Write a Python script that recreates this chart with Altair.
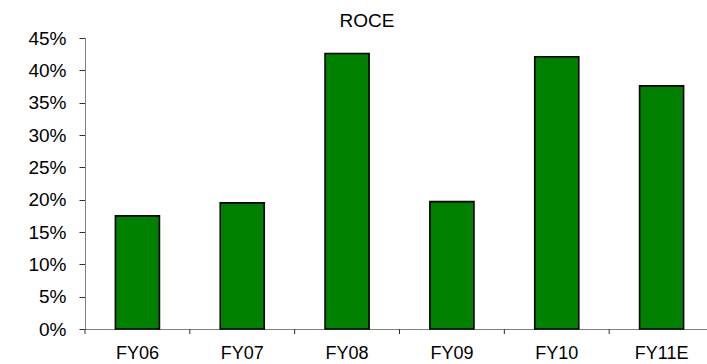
import altair as alt
import pandas as pd

# ROCE by fiscal year
years = ["FY06", "FY07", "FY08", "FY09", "FY10", "FY11E"]
roce = [0.175, 0.195, 0.426, 0.197, 0.421, 0.376]
y_ticks = [0, 0.05, 0.10, 0.15, 0.20, 0.25, 0.30, 0.35, 0.40, 0.45]

df = pd.DataFrame({"year": years, "roce": roce})

FONT = "Liberation Sans"
PLOT_H = 291

x_enc = alt.X(
    "year:N",
    sort=years,
    title=None,
    scale=alt.Scale(range=[0, 629], paddingInner=0, paddingOuter=0),
    axis=alt.Axis(
        labelAngle=0,
        ticks=False,
        labelPadding=15,
        labelFontSize=18,
        labelColor="#000000",
        domainColor="#808080",
    ),
)

bars = (
    alt.Chart(df)
    .mark_bar(
        color="#008000",
        stroke="#000000",
        strokeWidth=1.6,
        width=alt.RelativeBandSize(0.42),
    )
    .encode(
        x=x_enc,
        y=alt.Y(
            "roce:Q",
            title=None,
            scale=alt.Scale(domain=[0, 0.45], nice=False),
            axis=alt.Axis(
                values=y_ticks,
                format=".0%",
                grid=False,
                tickSize=6,
                labelPadding=13,
                labelFontSize=19,
                labelColor="#000000",
                domainColor="#808080",
                tickColor="#303030",
            ),
        ),
    )
)

# category separator ticks below the x axis, at each band's left edge
sep_ticks = (
    alt.Chart(df)
    .mark_rule(color="#303030", strokeWidth=1)
    .encode(
        x=alt.X("year:N", sort=years, bandPosition=0),
        y=alt.value(PLOT_H),
        y2=alt.value(PLOT_H + 5),
    )
)

chart = (
    alt.layer(bars, sep_ticks)
    .properties(
        width=622,
        height=PLOT_H,
        autosize=alt.AutoSizeParams(type="none"),
        padding={"left": 85, "top": 38, "right": 0, "bottom": 35},
        title=alt.TitleParams(
            "ROCE",
            fontSize=19,
            fontWeight="normal",
            font=FONT,
            color="#000000",
            anchor="middle",
            dx=-29,
            dy=8,
            offset=6,
        ),
    )
    .configure(font=FONT)
    .configure_view(stroke=None)
    .configure_axis(labelFont=FONT, domainWidth=1, tickWidth=1)
)

chart.save("out.html", embed_options={"renderer": "svg", "actions": False})
